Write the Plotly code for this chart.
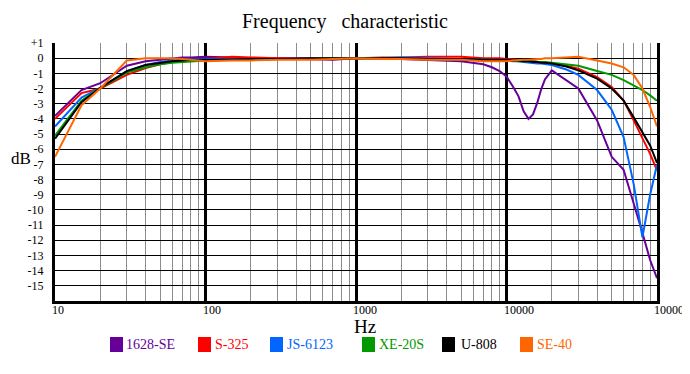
import math
import plotly.graph_objects as go

# ---------------- data ----------------
freq_hz = [10, 15, 20, 30, 40, 50, 60, 70, 80, 100,
           150, 200, 300, 500, 700, 1000,
           1500, 2000, 3000, 5000, 7000, 8000, 9000,
           10000, 11000, 12000, 13000, 14000, 15000, 16000, 17000, 18000,
           20000, 25000, 30000, 40000, 50000, 60000, 70000, 80000, 90000, 100000]

db_1628se = [-3.8, -2.1, -1.65, -0.5, -0.2, -0.1, -0.05, 0.05, 0.05, 0.1,
             0.05, 0.0, 0.0, -0.05, -0.1, 0.0,
             0.0, -0.05, -0.1, -0.2, -0.4, -0.6, -0.85,
             -1.2, -1.85, -2.5, -3.5, -4.0, -3.7, -2.95, -2.05, -1.4,
             -0.8, -1.45, -2.0, -4.1, -6.5, -7.35, -9.5, -11.5, -13.3, -14.5]

db_s325 = [-4.0, -2.3, -2.0, -1.1, -0.65, -0.4, -0.25, -0.15, -0.1, -0.05,
           0.1, 0.05, 0.0, 0.0, 0.0, 0.0,
           0.05, 0.05, 0.1, 0.1, 0.0, 0.0, 0.0,
           -0.05, -0.1, -0.1, -0.15, -0.15, -0.2, -0.2, -0.25, -0.3,
           -0.35, -0.5, -0.7, -1.25, -1.9, -2.8, -4.1, -5.3, -6.3, -7.4]

db_js6123 = [-4.5, -2.6, -1.95, -0.85, -0.45, -0.25, -0.15, -0.1, -0.05, -0.05,
             -0.1, -0.1, -0.05, 0.0, 0.0, 0.0,
             0.0, 0.05, 0.0, -0.05, -0.1, -0.1, -0.1,
             -0.15, -0.2, -0.2, -0.25, -0.3, -0.3, -0.35, -0.35, -0.4,
             -0.45, -0.75, -1.1, -2.1, -3.4, -5.2, -8.3, -11.8, -9.0, -7.0]

db_xe20s = [-5.1, -2.8, -1.95, -0.95, -0.6, -0.4, -0.3, -0.25, -0.2, -0.15,
            -0.1, -0.1, -0.05, -0.05, 0.0, 0.0,
            0.0, -0.05, -0.05, -0.1, -0.1, -0.1, -0.15,
            -0.15, -0.15, -0.2, -0.2, -0.2, -0.2, -0.25, -0.25, -0.25,
            -0.3, -0.4, -0.5, -0.85, -1.1, -1.45, -1.8, -2.1, -2.45, -2.8]

db_u808 = [-5.3, -2.9, -1.95, -0.85, -0.45, -0.3, -0.2, -0.15, -0.1, -0.1,
           -0.1, -0.05, -0.05, 0.0, 0.0, 0.0,
           0.0, 0.0, -0.05, -0.05, -0.1, -0.1, -0.1,
           -0.1, -0.15, -0.15, -0.2, -0.2, -0.25, -0.25, -0.3, -0.3,
           -0.35, -0.55, -0.8, -1.35, -2.0, -2.8, -3.9, -4.9, -5.75, -6.9]

db_se40 = [-6.5, -3.1, -2.0, -0.15, 0.0, 0.0, 0.0, -0.05, -0.1, -0.2,
           -0.15, -0.15, -0.1, -0.1, -0.05, 0.0,
           -0.05, -0.05, -0.1, -0.1, -0.2, -0.2, -0.2,
           -0.2, -0.15, -0.1, -0.1, -0.1, -0.05, -0.05, -0.05, 0.0,
           0.0, 0.05, 0.1, -0.15, -0.35, -0.6, -1.1, -2.0, -3.2, -4.5]

series_names = ["1628-SE", "S-325", "JS-6123", "XE-20S", "U-808", "SE-40"]
series_values = [db_1628se, db_s325, db_js6123, db_xe20s, db_u808, db_se40]
series_colors = ["#660099", "#ff0000", "#0066ff", "#009900", "#000000", "#ff6600"]

y_tick_vals = list(range(1, -16, -1))
y_tick_text = ["+1"] + [str(v) for v in range(0, -16, -1)]
x_tick_vals = [10, 100, 1000, 10000, 100000]
x_tick_text = ["10", "100", "1000", "10000", "100000"]

# ---------------- layout constants ----------------
# the page places the figure 8px from the top-left corner of the window
OFF = 8
PAGE_W, PAGE_H = 690, 374
W, H = PAGE_W - OFF, PAGE_H - OFF
PLOT_LEFT, PLOT_RIGHT, PLOT_TOP, PLOT_BOTTOM = 55, 657, 43, 301   # page pixels
L = PLOT_LEFT - OFF
R = PAGE_W - PLOT_RIGHT
T = PLOT_TOP - OFF
B = PAGE_H - PLOT_BOTTOM
PW = W - L - R
PH = H - T - B
FONT = "Liberation Serif, Times New Roman, serif"


def pxx(px):
    """page pixel x -> paper x"""
    return (px - PLOT_LEFT) / PW


def pxy(py):
    """page pixel y -> paper y"""
    return (PLOT_BOTTOM - py) / PH


fig = go.Figure()
for name, vals, color in zip(series_names, series_values, series_colors):
    fig.add_trace(go.Scatter(x=freq_hz, y=vals, mode="lines", name=name,
                             line=dict(color=color, width=2),
                             showlegend=False, hoverinfo="skip"))

annotations = []
# x tick labels
for v, t in zip(x_tick_vals, x_tick_text):
    annotations.append(dict(x=math.log10(v), xref="x", y=pxy(310), yref="paper",
                            text=t, showarrow=False, xanchor="left", yanchor="middle",
                            xshift=-3, borderpad=0, borderwidth=0,
                            font=dict(family=FONT, size=12, color="black")))
# axis titles
annotations.append(dict(x=pxx(21), xref="paper", y=pxy(158), yref="paper", text="dB",
                        showarrow=False, xanchor="center", yanchor="middle",
                        font=dict(family=FONT, size=17, color="black")))
annotations.append(dict(x=pxx(365), xref="paper", y=pxy(326), yref="paper", text="Hz",
                        showarrow=False, xanchor="center", yanchor="middle",
                        borderpad=0, borderwidth=0,
                        font=dict(family=FONT, size=19, color="black")))

# legend
legend_square_px = [110, 198, 270, 362, 442, 520]
legend_text_px = [126, 215, 287, 379, 461, 537]
shapes = []
for name, color, sx, tx in zip(series_names, series_colors, legend_square_px, legend_text_px):
    shapes.append(dict(type="rect", xref="paper", yref="paper",
                       x0=pxx(sx), x1=pxx(sx + 13), y0=pxy(352), y1=pxy(337),
                       fillcolor=color, line=dict(width=0)))
    annotations.append(dict(x=pxx(tx), xref="paper", y=pxy(344), yref="paper", text=name,
                            showarrow=False, xanchor="left", yanchor="middle",
                            borderpad=0, borderwidth=0,
                            font=dict(family=FONT, size=14, color=color)))

fig.update_layout(
    width=W, height=H,
    margin=dict(l=L, r=R, t=T, b=B, pad=0),
    paper_bgcolor="white", plot_bgcolor="white",
    title=dict(text="Frequency&nbsp;&nbsp;&nbsp;characteristic",
               x=(345 - OFF) / W, xref="container", xanchor="center",
               y=1 - (21 - OFF) / H, yref="container", yanchor="middle",
               font=dict(family=FONT, size=20, color="black")),
    xaxis=dict(type="log", range=[1, 5], dtick=1, showticklabels=False, ticks="",
               showgrid=True, gridcolor="black", gridwidth=3, zeroline=False,
               showline=True, linecolor="black", linewidth=3, mirror=False,
               minor=dict(dtick="D1", showgrid=True, gridcolor="#8c8c8c", gridwidth=1, ticks="")),
    yaxis=dict(range=[-16, 1], tickvals=y_tick_vals, ticktext=y_tick_text, ticks="",
               showgrid=True, gridcolor="black", gridwidth=1, zeroline=False,
               showline=True, linecolor="black", linewidth=3, mirror=True,
               ticklabelstandoff=6,
               tickfont=dict(family=FONT, size=12, color="black")),
    annotations=annotations,
    shapes=shapes,
    showlegend=False,
)

fig.write_html("out.html")
